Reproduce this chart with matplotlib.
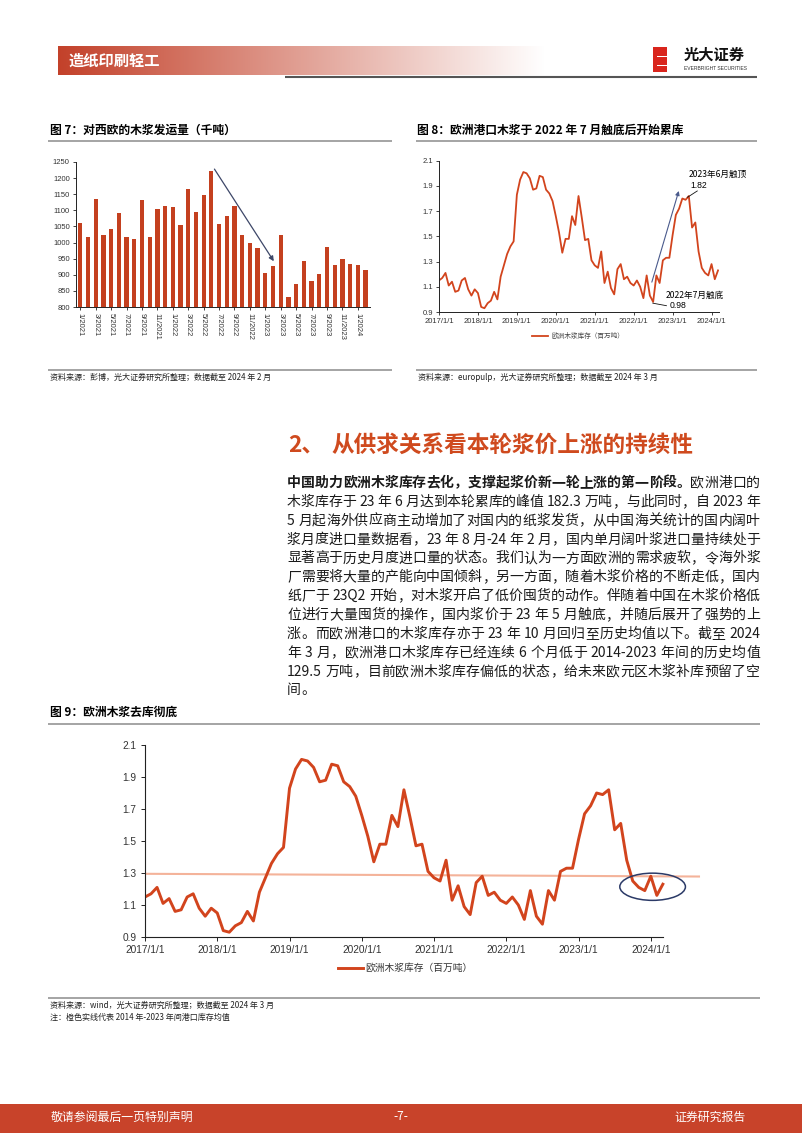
import numpy as np
import matplotlib
matplotlib.use('Agg')
import matplotlib.pyplot as plt
from matplotlib.patches import Rectangle, Ellipse
from matplotlib.colors import to_rgb
from matplotlib.font_manager import FontProperties

plt.rcParams['font.family'] = ['Noto Sans CJK SC', 'DejaVu Sans']
plt.rcParams['axes.unicode_minus'] = False

# ---------------- data ----------------
ship_labels = [f"{m}/{y}" for y in (2021, 2022, 2023) for m in range(1, 13)] + ["1/2024", "2/2024"]
ship_values = [1062, 1017, 1135, 1025, 1042, 1091, 1017, 1010, 1132, 1017, 1104, 1113,
               1111, 1056, 1167, 1095, 1147, 1222, 1059, 1081, 1112, 1024, 1000, 983,
               906, 926, 1022, 831, 870, 942, 882, 901, 987, 930, 950, 932,
               929, 916]

stock_values = [1.15, 1.17, 1.21, 1.11, 1.14, 1.06, 1.07, 1.15, 1.17, 1.08, 1.03, 1.08,
                1.05, 0.94, 0.93, 0.97, 0.99, 1.06, 1.00, 1.18, 1.27, 1.36, 1.42, 1.46,
                1.83, 1.95, 2.01, 2.00, 1.96, 1.87, 1.88, 1.98, 1.97, 1.87, 1.84, 1.78,
                1.66, 1.53, 1.37, 1.48, 1.48, 1.66, 1.59, 1.82, 1.65, 1.47, 1.48, 1.31,
                1.27, 1.25, 1.38, 1.13, 1.22, 1.09, 1.04, 1.24, 1.28, 1.16, 1.18, 1.13,
                1.11, 1.15, 1.10, 1.01, 1.19, 1.03, 0.98, 1.19, 1.13, 1.31, 1.33, 1.33,
                1.51, 1.67, 1.72, 1.80, 1.79, 1.82, 1.57, 1.61, 1.38, 1.25, 1.21, 1.19,
                1.28, 1.16, 1.23]
year_labels = ["2017/1/1", "2018/1/1", "2019/1/1", "2020/1/1", "2021/1/1",
               "2022/1/1", "2023/1/1", "2024/1/1"]
mean_x = [0, 92]
mean_values = [1.295, 1.278]
stock_ticks = [0.9, 1.1, 1.3, 1.5, 1.7, 1.9, 2.1]
ship_ticks = [800, 850, 900, 950, 1000, 1050, 1100, 1150, 1200, 1250]

body_lines = [
    [("中国助力欧洲木浆库存去化，支撑起浆价新一轮上涨的第一阶段。", True), ("欧洲港口的", False)],
    [("木浆库存于 23 年 6 月达到本轮累库的峰值 182.3 万吨，与此同时，自 2023 年", False)],
    [("5 月起海外供应商主动增加了对国内的纸浆发货，从中国海关统计的国内阔叶", False)],
    [("浆月度进口量数据看，23 年 8 月-24 年 2 月，国内单月阔叶浆进口量持续处于", False)],
    [("显著高于历史月度进口量的状态。我们认为一方面欧洲的需求疲软，令海外浆", False)],
    [("厂需要将大量的产能向中国倾斜，另一方面，随着木浆价格的不断走低，国内", False)],
    [("纸厂于 23Q2 开始，对木浆开启了低价囤货的动作。伴随着中国在木浆价格低", False)],
    [("位进行大量囤货的操作，国内浆价于 23 年 5 月触底，并随后展开了强势的上", False)],
    [("涨。而欧洲港口的木浆库存亦于 23 年 10 月回归至历史均值以下。截至 2024", False)],
    [("年 3 月，欧洲港口木浆库存已经连续 6 个月低于 2014-2023 年间的历史均值", False)],
    [("129.5 万吨，目前欧洲木浆库存偏低的状态，给未来欧元区木浆补库预留了空", False)],
    [("间。", False)],
]

# ---------------- styles ----------------
W, H, DPI = 802, 1133, 100
RED = '#c4401f'
LINE_RED = '#d2441d'
MEAN_C = '#f4b39a'
NUM_FONT = ['Liberation Sans', 'DejaVu Sans']
CJK = ['Noto Sans CJK SC', 'DejaVu Sans']

fig = plt.figure(figsize=(W / DPI, H / DPI), dpi=DPI)
bg = fig.add_axes([0, 0, 1, 1], zorder=0)
bg.axis('off')


def rect(l, t, r, b):
    return [l / W, 1 - b / H, (r - l) / W, (b - t) / H]


# ---------------- header ----------------
n = 300
t = np.linspace(0, 1, n)
c0 = np.array(to_rgb('#c3412a'))
grad = (c0[None, :] * (1 - t[:, None]) + np.ones(3)[None, :] * t[:, None])[None, :, :]
bg.imshow(grad, extent=[58, 545, 75.5, 47], aspect='auto', interpolation='bilinear', zorder=1)
bg.text(68, 61, "造纸印刷轻工", color='white', fontsize=11, fontweight='bold', va='center', ha='left', zorder=3)
bg.plot([285, 757], [76.5, 76.5], color='#555555', lw=1.5, zorder=2, solid_capstyle='butt')
# logo
bg.add_patch(Rectangle((653, 47), 14, 25, color='#d9251d', zorder=2, lw=0))
for yy in [51.5, 56, 60.5, 65, 69.5]:
    bg.add_patch(Rectangle((657, yy), 10, 0.9, color='white', zorder=3, lw=0))
bg.text(684, 55, "光大证券", fontsize=11, fontweight='bold', color='#111111', va='center', ha='left')
bg.text(684, 68, "EVERBRIGHT SECURITIES", fontsize=3.6, color='#333333', va='center', ha='left',
        family=NUM_FONT)

# ---------------- titles ----------------
bg.text(50, 130, "图 7：对西欧的木浆发运量（千吨）", fontsize=8.5, fontweight='bold', va='center', ha='left')
bg.plot([48, 392], [141, 141], color='#8c8c8c', lw=1.1, solid_capstyle='butt')
bg.text(417, 130, "图 8：欧洲港口木浆于 2022 年 7 月触底后开始累库", fontsize=8.5, fontweight='bold',
        va='center', ha='left')
bg.plot([416, 757], [141, 141], color='#8c8c8c', lw=1.1, solid_capstyle='butt')

bg.plot([48, 392], [369.5, 369.5], color='#8c8c8c', lw=1.1, solid_capstyle='butt')
bg.plot([416, 757], [369.5, 369.5], color='#8c8c8c', lw=1.1, solid_capstyle='butt')
bg.text(50, 377, "资料来源：彭博，光大证券研究所整理；数据截至 2024 年 2 月", fontsize=5.8, va='center', ha='left',
        color='#222222')
bg.text(418, 377, "资料来源：europulp，光大证券研究所整理；数据截至 2024 年 3 月", fontsize=5.8, va='center',
        ha='left', color='#222222')

# ---------------- chart 7 ----------------
ax7 = fig.add_axes(rect(76, 162, 370, 307))
xb = np.arange(len(ship_values))
ax7.bar(xb, ship_values, width=0.55, color=RED, zorder=2)
ax7.set_ylim(800, 1250)
ax7.set_xlim(-0.56, 37.58)
ax7.set_yticks(ship_ticks)
ax7.set_yticklabels([str(v) for v in ship_ticks], fontsize=5.5, family=NUM_FONT, color='#333333')
ax7.set_xticks(xb[::2])
ax7.set_xticklabels(ship_labels[::2], rotation=270, fontsize=5.5, family=NUM_FONT, color='#333333')
for s in ['top', 'right']:
    ax7.spines[s].set_visible(False)
for s in ['left', 'bottom']:
    ax7.spines[s].set_color('#222222')
    ax7.spines[s].set_linewidth(0.7)
ax7.tick_params(axis='both', direction='out', length=2, width=0.6, pad=2.5, color='#222222')
ax7.patch.set_alpha(0)
ax7.annotate('', xy=(25.1, 942), xytext=(17.4, 1228),
             arrowprops=dict(arrowstyle='-|>', color='#3d4768', lw=0.9, mutation_scale=7,
                             shrinkA=0, shrinkB=0), annotation_clip=False)

# ---------------- chart 8 ----------------
xs = np.arange(len(stock_values))
ax8 = fig.add_axes(rect(439, 160.7, 719, 312))
ax8.plot(xs, stock_values, color=LINE_RED, lw=1.3, label="欧洲木浆库存（百万吨）")
ax8.set_ylim(0.9, 2.1)
ax8.set_xlim(0, 86.3)
ax8.set_yticks(stock_ticks)
ax8.set_yticklabels([f"{v:.1f}" for v in stock_ticks], fontsize=5.5, family=NUM_FONT, color='#333333')
ax8.set_xticks(np.arange(0, 85, 12))
ax8.set_xticklabels(year_labels, fontsize=5.5, family=NUM_FONT, color='#333333')
for s in ['top', 'right']:
    ax8.spines[s].set_visible(False)
for s in ['left', 'bottom']:
    ax8.spines[s].set_color('#222222')
    ax8.spines[s].set_linewidth(0.7)
ax8.tick_params(axis='both', direction='out', length=2, width=0.6, pad=2.5, color='#222222')
ax8.patch.set_alpha(0)
ax8.annotate('', xy=(73.9, 1.86), xytext=(65.6, 1.137),
             arrowprops=dict(arrowstyle='-|>', color='#4a5a8c', lw=0.8, mutation_scale=6,
                             shrinkA=0, shrinkB=0), annotation_clip=False)
ax8.plot([76.6, 79.6], [1.81, 1.86], color='#111111', lw=0.6, clip_on=False)
ax8.plot([65.9, 70.1], [0.97, 0.95], color='#111111', lw=0.6, clip_on=False)
ax8.text(77.0, 1.99, "2023年6月触顶", fontsize=6.2, va='center', ha='left', clip_on=False)
ax8.text(77.6, 1.905, "1.82", fontsize=6.2, va='center', ha='left', family=NUM_FONT, clip_on=False)
ax8.text(70.0, 1.03, "2022年7月触底", fontsize=6.2, va='center', ha='left', clip_on=False)
ax8.text(71.0, 0.955, "0.98", fontsize=6.2, va='center', ha='left', family=NUM_FONT, clip_on=False)
ax8.legend(loc='center', bbox_to_anchor=(578 / W, 1 - 336 / H), bbox_transform=fig.transFigure,
           frameon=False, fontsize=4.8, handlelength=2.4, handletextpad=0.6, borderpad=0,
           labelcolor='#444444')

# ---------------- section heading & body ----------------
HEAD_C = '#cf4a1e'
bg.text(288, 445, "2、", fontsize=16.3, fontweight='bold', color=HEAD_C, va='center', ha='left')
bg.text(331, 445, "从供求关系看本轮浆价上涨的持续性", fontsize=16.3, fontweight='bold', color=HEAD_C,
        va='center', ha='left')

renderer = fig.canvas.get_renderer()
fp_reg = FontProperties(family=CJK, size=10)
fp_bold = FontProperties(family=CJK, size=10, weight='bold')


def tokenize(s):
    toks, buf = [], ''
    for ch in s:
        if ch.isascii() and ch != ' ':
            buf += ch
        else:
            if buf:
                toks.append(buf)
                buf = ''
            toks.append(ch)
    if buf:
        toks.append(buf)
    return toks


def advance(tok, fp):
    w1, _, _ = renderer.get_text_width_height_descent('中' + tok + '中', fp, ismath=False)
    w0, _, _ = renderer.get_text_width_height_descent('中中', fp, ismath=False)
    return w1 - w0


X0, X1 = 287, 760
y_first, dy = 481.7, 18.87
for i, segs in enumerate(body_lines):
    toks = []
    for txt, bold in segs:
        fp = fp_bold if bold else fp_reg
        for tk in tokenize(txt):
            toks.append((tk, fp, advance(tk, fp)))
    total = sum(a for _, _, a in toks)
    last = (i == len(body_lines) - 1)
    gap = 0 if last or len(toks) < 2 else (X1 - X0 - total) / (len(toks) - 1)
    x = X0
    yb = y_first + i * dy + 5.2
    for tk, fp, a in toks:
        if tk != ' ':
            bg.text(x, yb, tk, fontproperties=fp, va='baseline', ha='left', color='#1a1a1a')
        x += a + gap

# ---------------- chart 9 ----------------
bg.text(50, 712, "图 9：欧洲木浆去库彻底", fontsize=8.5, fontweight='bold', va='center', ha='left')
bg.plot([48, 760], [724, 724], color='#8c8c8c', lw=1.1, solid_capstyle='butt')

ax9 = fig.add_axes(rect(145, 745, 705, 937))
ax9.plot(mean_x, mean_values, color=MEAN_C, lw=1.5, zorder=1)
line9, = ax9.plot(xs, stock_values, color=LINE_RED, lw=2.1, zorder=2, label="欧洲木浆库存（百万吨）")
ax9.set_ylim(0.9, 2.1)
ax9.set_xlim(0, 93)
ax9.set_yticks(stock_ticks)
ax9.set_yticklabels([f"{v:.1f}" for v in stock_ticks], fontsize=7.3, family=NUM_FONT, color='#333333')
ax9.set_xticks(np.arange(0, 85, 12))
ax9.set_xticklabels(year_labels, fontsize=7.3, family=NUM_FONT, color='#333333')
for s in ['top', 'right']:
    ax9.spines[s].set_visible(False)
for s in ['left', 'bottom']:
    ax9.spines[s].set_color('#222222')
    ax9.spines[s].set_linewidth(0.8)
ax9.spines['bottom'].set_bounds(0, 86)
ax9.tick_params(axis='both', direction='out', length=3, width=0.7, pad=3, color='#222222')
ax9.patch.set_alpha(0)
ax9.add_patch(Ellipse((84.3, 1.214), 10.9, 0.17, fill=False, edgecolor='#2b3a67', lw=1.1, zorder=3))
ax9.legend(handles=[line9], loc='center', bbox_to_anchor=(405 / W, 1 - 968 / H), bbox_transform=fig.transFigure,
           frameon=False, fontsize=7, handlelength=2.6, handletextpad=0.25, borderpad=0,
           labelcolor='#333333')

bg.plot([48, 760], [998, 998], color='#8c8c8c', lw=1.1, solid_capstyle='butt')
bg.text(50, 1005, "资料来源：wind，光大证券研究所整理；数据截至 2024 年 3 月", fontsize=5.8, va='center', ha='left',
        color='#222222')
bg.text(50, 1017, "注：橙色实线代表 2014 年-2023 年间港口库存均值", fontsize=5.8, va='center', ha='left',
        color='#222222')

# ---------------- footer ----------------
bg.add_patch(Rectangle((0, 1103.5), W, 29.5, color='#c8432a', lw=0, zorder=1))
bg.text(51, 1117, "敬请参阅最后一页特别声明", fontsize=8.6, color='white', va='center', ha='left', zorder=3)
bg.text(401, 1117, "-7-", fontsize=8.6, color='white', va='center', ha='center', zorder=3)
bg.text(746, 1117, "证券研究报告", fontsize=8.6, color='white', va='center', ha='right', zorder=3)

bg.set_xlim(0, W)
bg.set_ylim(H, 0)

fig.savefig('out.png', dpi=DPI)
